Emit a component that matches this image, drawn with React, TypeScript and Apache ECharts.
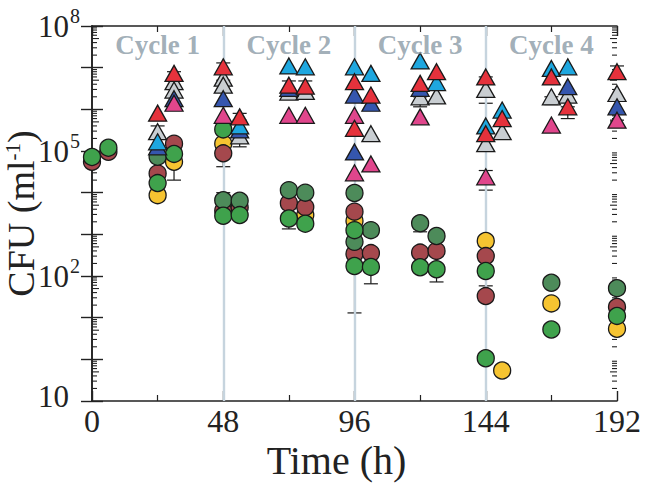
import React, { useEffect, useRef } from "react";
import * as echarts from "echarts";

// ---- data (time in h, CFU per ml) ----
const timeTicks = [0, 48, 96, 144, 192];
const cycleNames = ["Cycle 1", "Cycle 2", "Cycle 3", "Cycle 4"];
const cycleMidTimes = [24, 72, 120, 168];
const cycleLabelLevel = 3.5e7;
const cycleBoundaries = [48, 96, 144];
const yLabelExponents = [8, 5, 2, -1];
const minorMultipliers = [2, 3, 4, 5, 6, 7, 8, 9];
const decadeExponents = [-1, 0, 1, 2, 3, 4, 5, 6, 7];

const yellowCircles: number[][] = [
  [24, 8.7e3], [30, 5.5e4], [48, 1.5e5], [78, 2.9e3], [96, 2.1e3],
  [144, 690], [150, 0.54], [168, 22], [192, 5.4],
];
const brownCircles: number[][] = [
  [0, 5.5e4], [6, 9.6e4], [24, 2.9e4], [30, 1.5e5], [48, 8.8e4], [48, 3.7e3],
  [54, 4.4e3], [72, 5.6e3], [78, 4.5e3], [96, 3.5e3], [96, 340], [102, 355],
  [120, 365], [126, 400], [144, 300], [144, 33], [192, 18],
];
const darkGreenCircles: number[][] = [
  [24, 7.3e4], [48, 6.6e3], [54, 6.4e3], [72, 1.15e4], [78, 1.0e4],
  [96, 9.8e3], [96, 660], [102, 1.26e3], [120, 1.85e3], [126, 910],
  [168, 69], [192, 51],
];
const greenCircles: number[][] = [
  [0, 7.2e4], [6, 1.2e5], [24, 1.7e4], [30, 8.5e4], [48, 3.3e5], [48, 2.8e3],
  [54, 2.9e3], [72, 2.4e3], [78, 1.8e3], [96, 1.26e3], [96, 174], [102, 165],
  [120, 162], [126, 145], [144, 132], [144, 1.06], [168, 5.2], [192, 11],
];
const grayTriangles: number[][] = [
  [24, 2.9e5], [30, 4.6e6], [30, 2.9e6], [48, 5.6e6], [48, 3.8e6], [54, 2.3e5],
  [72, 2.6e6], [78, 2.7e6], [102, 2.6e5], [120, 2.0e6], [126, 2.1e6],
  [144, 3.0e6], [144, 1.5e5], [150, 2.9e5], [168, 2.0e6], [174, 2.2e6], [192, 2.4e6],
];
const blueTriangles: number[][] = [
  [24, 1.26e5], [30, 1.8e6], [48, 1.8e6], [54, 3.2e5], [72, 3.2e6], [96, 2.2e6],
  [96, 9.5e4], [102, 1.4e6], [120, 3.2e6], [174, 3.5e6], [192, 1.15e6],
];
const cyanTriangles: number[][] = [
  [24, 1.66e5], [54, 4.0e5], [72, 1.1e7], [78, 1.05e7], [96, 1.05e7], [102, 7.3e6],
  [120, 1.45e7], [126, 4.4e6], [144, 4.0e5], [150, 9.6e5], [168, 9.6e6], [174, 1.05e7],
];
const pinkTriangles: number[][] = [
  [30, 1.4e6], [48, 7.2e5], [72, 7.2e5], [78, 7.2e5], [96, 7.2e5], [96, 3.0e4],
  [102, 4.9e4], [120, 6.6e5], [144, 2.4e4], [168, 4.2e5], [192, 5.5e5],
];
const redTriangles: number[][] = [
  [24, 8.1e5], [30, 7.3e6], [48, 1.05e7], [54, 6.6e5], [72, 3.8e6], [78, 3.6e6],
  [96, 4.6e6], [96, 3.5e5], [102, 2.2e6], [120, 4.2e6], [126, 8.0e6], [144, 6.0e6],
  [144, 2.6e5], [150, 6.0e5], [168, 6.0e6], [174, 1.15e6], [192, 8.0e6],
];
// [time, low, high]
const errorBars: number[][] = [
  [24, 2.0e5, 4.0e5], [30, 2.0e4, 5.5e4], [30, 3.0e6, 8.0e6], [48, 4.2e4, 8.8e4],
  [48, 5.0e6, 1.3e7], [48, 6.6e3, 1.0e4], [54, 1.26e5, 2.3e5], [54, 5.5e5, 8.0e5],
  [72, 1.35e3, 2.4e3], [72, 2.2e6, 4.8e6], [78, 1.35e3, 1.8e3], [78, 2.2e6, 4.8e6],
  [96, 13, 174], [96, 500, 800], [102, 65, 165], [120, 1.15e6, 2.0e6],
  [120, 1.15e3, 1.85e3], [126, 72, 145], [144, 1.4e6, 6.0e6], [144, 1.15e4, 3.4e4],
  [144, 33, 58], [168, 1.3e6, 2.0e6], [174, 6.0e5, 1.15e6], [192, 5.5e6, 1.1e7],
  [192, 3.8e5, 5.5e5],
];

const SERIF = '"Liberation Serif", "Times New Roman", serif';
const INK = "#222222";

function circle(data: number[][], color: string) {
  return {
    type: "scatter", data, symbol: "circle", symbolSize: 17, clip: false, z: 5,
    itemStyle: { color, borderColor: "#1a1a1a", borderWidth: 1.3, opacity: 1 },
    silent: true,
  };
}
function triangle(data: number[][], color: string) {
  return {
    type: "scatter", data, symbol: "triangle", symbolSize: [18, 16], clip: false, z: 6,
    itemStyle: { color, borderColor: "#1a1a1a", borderWidth: 1.3, opacity: 1 },
    silent: true,
  };
}

export default function App() {
  const ref = useRef<HTMLDivElement>(null);
  useEffect(() => {
    if (!ref.current) return;
    const chart = echarts.init(ref.current, null, { renderer: "svg" });
    const minorValues: number[][] = [];
    decadeExponents.forEach((e) =>
      minorMultipliers.forEach((m) => minorValues.push([0, m * Math.pow(10, e), m]))
    );
    const axisCommon = {
      axisLine: { show: true, lineStyle: { color: INK, width: 1.6 } },
      splitLine: { show: false },
    };
    chart.setOption({
      animation: false,
      backgroundColor: "#ffffff",
      grid: { left: 92, right: 28, top: 26, bottom: 84, containLabel: false, outerBoundsMode: "none" },
      xAxis: [
        {
          ...axisCommon,
          type: "value", min: 0, max: 192, interval: 48, position: "bottom",
          axisTick: { show: true, inside: true, length: 10, lineStyle: { color: INK, width: 1.4 } },
          minorTick: { show: true, splitNumber: 2, length: 6, lineStyle: { color: INK, width: 1.2 } },
          axisLabel: {
            show: true, margin: 4, fontFamily: SERIF, fontSize: 32, color: INK,
            formatter: (v: number) => (timeTicks.includes(v) ? String(v) : ""),
          },
          name: "Time (h)", nameLocation: "middle", nameGap: 39, nameMoveOverlap: false,
          nameTextStyle: { fontFamily: SERIF, fontSize: 40, color: INK, padding: [0, 36, 0, 0] },
        },
        {
          ...axisCommon,
          type: "value", min: 0, max: 192, interval: 48, position: "top",
          axisTick: { show: true, inside: true, length: 10, lineStyle: { color: INK, width: 1.4 } },
          minorTick: { show: true, splitNumber: 2, length: 6, lineStyle: { color: INK, width: 1.2 } },
          axisLabel: { show: false },
        },
      ],
      yAxis: [
        {
          ...axisCommon,
          type: "log", logBase: 10, min: 0.1, max: 1e8, splitNumber: 9, position: "left",
          axisTick: { show: true, inside: true, length: 11, lineStyle: { color: INK, width: 1.4 } },
          axisLabel: {
            show: true, margin: 12, color: INK,
            formatter: (v: number) => {
              const e = Math.round(Math.log10(v));
              if (!yLabelExponents.includes(e)) return "";
              return e > 0 ? `{b|10}{s|${e}}` : "{c|10}{p|}";
            },
            rich: {
              b: { fontFamily: SERIF, fontSize: 31, color: INK },
              c: { fontFamily: SERIF, fontSize: 31, color: INK, padding: [0, 0, 10, 0] },
              p: { width: 11 },
              s: { fontFamily: SERIF, fontSize: 20, color: INK, padding: [0, 0, 20, 1] },
            },
          },
          name: "{a|CFU (ml}{s|-1}{a|)}", nameLocation: "middle", nameGap: 52, nameRotate: 90,
          nameMoveOverlap: false,
          nameTextStyle: {
            rich: {
              a: { fontFamily: SERIF, fontSize: 38, color: INK },
              s: { fontFamily: SERIF, fontSize: 21, color: INK, padding: [0, 0, 16, 0] },
            },
          },
        },
        {
          ...axisCommon,
          type: "log", logBase: 10, min: 0.1, max: 1e8, splitNumber: 9, position: "right",
          axisTick: { show: true, inside: true, length: 11, lineStyle: { color: INK, width: 1.4 } },
          axisLabel: { show: false },
        },
      ],
      series: [
        {
          type: "scatter", data: [], z: 1, silent: true,
          markLine: {
            silent: true, symbol: "none", animation: false,
            label: { show: false },
            lineStyle: { color: "#c6d4de", width: 2.4, type: "solid" },
            data: cycleBoundaries.map((t) => ({ xAxis: t })),
          },
        },
        {
          type: "custom", z: 2, silent: true, clip: false,
          data: minorValues,
          encode: { x: 0, y: 1 },
          renderItem: (params: any, api: any) => {
            const cs = params.coordSys;
            const p = api.coord([0, api.value(1)]);
            const len = api.value(2) === 5 ? 7 : 5;
            const st = { stroke: INK, lineWidth: 1.1 };
            return {
              type: "group",
              children: [
                { type: "line", shape: { x1: cs.x, y1: p[1], x2: cs.x + len, y2: p[1] }, style: st },
                { type: "line", shape: { x1: cs.x + cs.width, y1: p[1], x2: cs.x + cs.width - len, y2: p[1] }, style: st },
              ],
            };
          },
        },
        {
          type: "custom", z: 4, silent: true, clip: false,
          data: errorBars,
          encode: { x: 0, y: [1, 2] },
          renderItem: (_params: any, api: any) => {
            const lo = api.coord([api.value(0), api.value(1)]);
            const hi = api.coord([api.value(0), api.value(2)]);
            const st = { stroke: "#1a1a1a", lineWidth: 1.2 };
            return {
              type: "group",
              children: [
                { type: "line", shape: { x1: lo[0], y1: lo[1], x2: hi[0], y2: hi[1] }, style: st },
                { type: "line", shape: { x1: lo[0] - 7, y1: lo[1], x2: lo[0] + 7, y2: lo[1] }, style: st },
                { type: "line", shape: { x1: hi[0] - 7, y1: hi[1], x2: hi[0] + 7, y2: hi[1] }, style: st },
              ],
            };
          },
        },
        circle(yellowCircles, "#f6c431"),
        circle(brownCircles, "#a5484d"),
        circle(darkGreenCircles, "#4d8b5a"),
        circle(greenCircles, "#3fa24c"),
        triangle(grayTriangles, "#c9ced2"),
        triangle(blueTriangles, "#3556ae"),
        triangle(cyanTriangles, "#1ea7df"),
        triangle(pinkTriangles, "#e0468c"),
        triangle(redTriangles, "#e5323c"),
        {
          type: "scatter", z: 8, silent: true, symbolSize: 0,
          data: cycleMidTimes.map((t, i) => ({ value: [t, cycleLabelLevel], name: cycleNames[i] })),
          label: {
            show: true, position: "inside", formatter: "{b}",
            fontFamily: SERIF, fontSize: 27, fontWeight: "bold", color: "#8a9aa6",
          },
        },
      ],
    });
    return () => chart.dispose();
  }, []);
  return (
    <div
      ref={ref}
      style={{ position: "absolute", left: 0, top: 0, width: 645, height: 485, background: "#fff" }}
    />
  );
}
